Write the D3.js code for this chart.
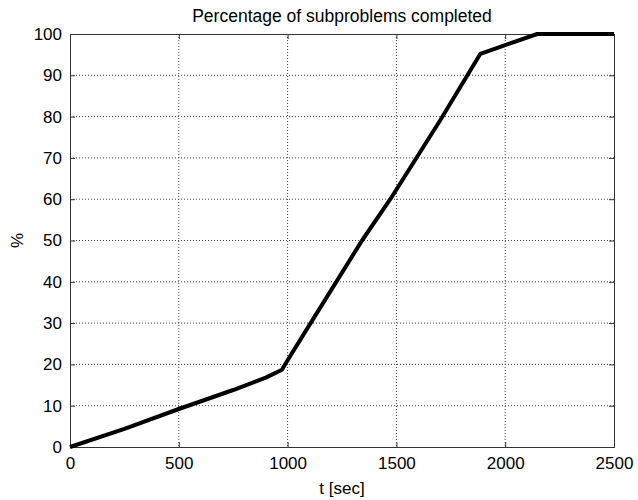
<!DOCTYPE html>
<html>
  <head>
  <title>Percentage of subproblems completed</title>
  <style>
    body, html {
      margin: 0;
      padding: 0;
      background: #fff;
    }
    svg text {
      font-family: "Liberation Sans", Arial, sans-serif;
      fill: #000;
    }
  </style>
  </head>
  <body>
    <svg id="svg" width="638" height="500"></svg>
  <script src="https://cdn.jsdelivr.net/npm/d3@7"></script>
  <script>
    // values
    const times = [0, 250, 500, 750, 900, 974, 1000, 1100, 1342, 1472, 1700, 1886, 2000, 2147, 2500]
    const percent = [0, 4.4, 9.2, 13.8, 16.8, 18.7, 21, 29.5, 50, 60, 79, 95.2, 97.3, 100, 100]
    const xTicks = [0, 500, 1000, 1500, 2000, 2500]
    const yTicks = [0, 10, 20, 30, 40, 50, 60, 70, 80, 90, 100]

    const data = times.map((t, i) => ({ t: t, p: percent[i] }))

    const margin = { top: 34, right: 24, bottom: 53, left: 70 }
    const width = 638 - margin.left - margin.right
    const height = 500 - margin.top - margin.bottom

    const svg = d3.select('#svg')

    const xScale = d3.scaleLinear()
      .domain([0, 2500])
      .range([margin.left, margin.left + width])

    const yScale = d3.scaleLinear()
      .domain([0, 100])
      .range([margin.top + height, margin.top])

    // dotted grid
    svg.append("g")
      .selectAll("line")
      .data(xTicks.slice(1, -1))
      .enter().append("line")
      .attr("x1", d => xScale(d)).attr("x2", d => xScale(d))
      .attr("y1", margin.top).attr("y2", margin.top + height)
      .attr("stroke", "#444")
      .attr("stroke-dasharray", "1,2")

    svg.append("g")
      .selectAll("line")
      .data(yTicks.slice(1, -1))
      .enter().append("line")
      .attr("y1", d => yScale(d)).attr("y2", d => yScale(d))
      .attr("x1", margin.left).attr("x2", margin.left + width)
      .attr("stroke", "#444")
      .attr("stroke-dasharray", "1,2")

    // axes with inward ticks (matlab style)
    svg.append("g")
      .attr("transform", `translate(0, ${margin.top + height})`)
      .call(d3.axisBottom(xScale).tickValues(xTicks).tickSize(-5).tickPadding(10).tickFormat(d3.format("d")))
    svg.append("g")
      .attr("transform", `translate(0, ${margin.top})`)
      .call(d3.axisTop(xScale).tickValues(xTicks).tickSize(-5).tickFormat(""))
    svg.append("g")
      .attr("transform", `translate(${margin.left}, 0)`)
      .call(d3.axisLeft(yScale).tickValues(yTicks).tickSize(-5).tickPadding(8))
    svg.append("g")
      .attr("transform", `translate(${margin.left + width}, 0)`)
      .call(d3.axisRight(yScale).tickValues(yTicks).tickSize(-5).tickFormat(""))

    svg.selectAll(".domain").attr("stroke", "#333")
    svg.selectAll(".tick line").attr("stroke", "#333")
    svg.selectAll(".tick text").style("font-size", "17px").style("font-family", "\"Liberation Sans\", Arial, sans-serif")

    // the curve
    const line = d3.line()
      .x(d => xScale(d.t))
      .y(d => yScale(d.p))

    svg.append("path")
      .datum(data)
      .attr("fill", "none")
      .attr("stroke", "#000")
      .attr("stroke-width", 4)
      .attr("stroke-linejoin", "round")
      .attr("d", line)

    // labels
    svg.append("text")
      .attr("x", margin.left + width / 2)
      .attr("y", 22)
      .attr("text-anchor", "middle")
      .style("font-size", "17.5px")
      .text("Percentage of subproblems completed")

    svg.append("text")
      .attr("x", margin.left + width / 2)
      .attr("y", 494)
      .attr("text-anchor", "middle")
      .style("font-size", "17px")
      .text("t [sec]")

    svg.append("text")
      .attr("transform", `translate(23, ${margin.top + height / 2}) rotate(-90)`)
      .attr("text-anchor", "middle")
      .style("font-size", "17px")
      .text("%")
  </script>
  </body>
</html>
